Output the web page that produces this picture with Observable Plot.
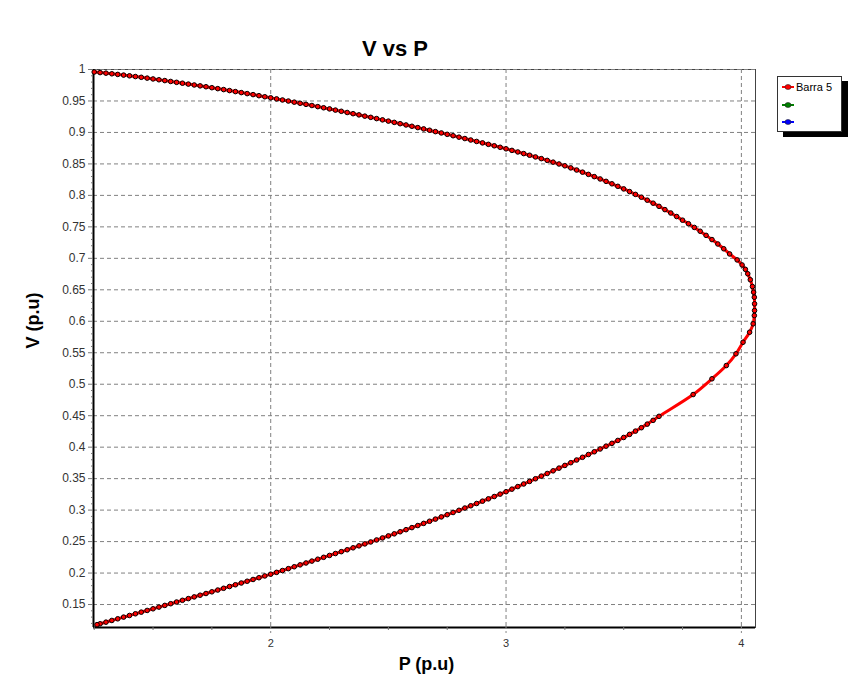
<!DOCTYPE html>
<html>
<head>
<meta charset="utf-8">
<script src="https://cdn.jsdelivr.net/npm/d3@7"></script>
<script src="https://cdn.jsdelivr.net/npm/@observablehq/plot@0.6"></script>
<style>
  html, body { margin: 0; padding: 0; background: #fff; }
  #wrap { position: relative; width: 859px; height: 694px; font-family: "Liberation Sans", Arial, sans-serif; }
  #title { position: absolute; left: 295px; width: 200px; top: 36px; text-align: center; font-weight: bold; font-size: 22px; line-height: 26px; color: #000; }
  #legend { position: absolute; left: 777px; top: 76px; width: 63px; height: 54px; background: #fff; border: 1px solid #333; box-shadow: 6px 5px 0 #000; font-size: 11px; }
  .item { position: absolute; left: 4px; height: 12px; display: flex; align-items: center; }
  .item svg { margin-right: 2px; }
</style>
</head>
<body>
<div id="wrap">
  <div id="chart"></div>
  <div id="title">V vs P</div>
  <div id="legend"></div>
</div>
<script>
// PV (nose) curve of bus 5: load P (p.u.) against voltage V (p.u.).
// Upper branch, stepping the load up towards the nose.
const pUpper = [
  1.25, 1.275, 1.3, 1.325, 1.35, 1.375, 1.4, 1.425, 1.45, 1.475,
  1.5, 1.525, 1.55, 1.575, 1.6, 1.625, 1.65, 1.675, 1.7, 1.725,
  1.75, 1.775, 1.8, 1.825, 1.85, 1.875, 1.9, 1.925, 1.95, 1.975,
  2.0, 2.025, 2.05, 2.075, 2.1, 2.125, 2.15, 2.175, 2.2, 2.225,
  2.25, 2.275, 2.3, 2.325, 2.35, 2.375, 2.4, 2.425, 2.45, 2.475,
  2.5, 2.525, 2.55, 2.575, 2.6, 2.625, 2.65, 2.675, 2.7, 2.725,
  2.75, 2.775, 2.8, 2.825, 2.85, 2.875, 2.9, 2.925, 2.95, 2.975,
  3.0, 3.025, 3.05, 3.075, 3.1, 3.125, 3.15, 3.175, 3.2, 3.225,
  3.25, 3.275, 3.3, 3.325, 3.35, 3.375, 3.4, 3.425, 3.45, 3.475,
  3.5, 3.525, 3.55, 3.575, 3.6, 3.625, 3.65, 3.675, 3.7, 3.725,
  3.75, 3.775, 3.8, 3.825, 3.85, 3.875, 3.9, 3.925, 3.95
];
const vUpper = [
  0.9960, 0.9951, 0.9942, 0.9932, 0.9922, 0.9911, 0.9900, 0.9888, 0.9876, 0.9863,
  0.9850, 0.9837, 0.9824, 0.9810, 0.9796, 0.9782, 0.9768, 0.9754, 0.9740, 0.9726,
  0.9711, 0.9696, 0.9681, 0.9665, 0.9649, 0.9633, 0.9617, 0.9601, 0.9584, 0.9567,
  0.9550, 0.9533, 0.9516, 0.9499, 0.9481, 0.9463, 0.9446, 0.9428, 0.9410, 0.9392,
  0.9374, 0.9355, 0.9336, 0.9317, 0.9298, 0.9279, 0.9259, 0.9240, 0.9220, 0.9200,
  0.9180, 0.9160, 0.9139, 0.9119, 0.9098, 0.9077, 0.9056, 0.9035, 0.9013, 0.8992,
  0.8970, 0.8948, 0.8925, 0.8903, 0.8880, 0.8857, 0.8834, 0.8811, 0.8788, 0.8764,
  0.8740, 0.8715, 0.8690, 0.8664, 0.8638, 0.8611, 0.8584, 0.8556, 0.8528, 0.8499,
  0.8470, 0.8437, 0.8403, 0.8369, 0.8334, 0.8298, 0.8261, 0.8223, 0.8184, 0.8144,
  0.8103, 0.8060, 0.8016, 0.7971, 0.7924, 0.7876, 0.7826, 0.7774, 0.7720, 0.7664,
  0.7606, 0.7550, 0.7491, 0.7430, 0.7365, 0.7298, 0.7228, 0.7152, 0.7070
];
// Round the nose: small voltage steps, then the coarse steps of the lower branch.
const pNose = [3.982, 4.003, 4.017, 4.027, 4.038, 4.047, 4.052, 4.055, 4.056, 4.056, 4.055, 4.050,
  4.035, 4.007, 3.977, 3.936, 3.875, 3.795];
const vNose = [0.6975, 0.6895, 0.6825, 0.6755, 0.6660, 0.6552, 0.6462, 0.6382, 0.6277, 0.6171, 0.6091, 0.5960,
  0.5826, 0.5667, 0.5483, 0.5297, 0.5086, 0.4836];
// Lower branch, load decreasing again.
const pLower = [
  3.65, 3.625, 3.6, 3.575, 3.55, 3.525,
  3.5, 3.475, 3.45, 3.425, 3.4, 3.375, 3.35, 3.325, 3.3, 3.275,
  3.25, 3.225, 3.2, 3.175, 3.15, 3.125, 3.1, 3.075, 3.05, 3.025,
  3.0, 2.975, 2.95, 2.925, 2.9, 2.875, 2.85, 2.825, 2.8, 2.775,
  2.75, 2.725, 2.7, 2.675, 2.65, 2.625, 2.6, 2.575, 2.55, 2.525,
  2.5, 2.475, 2.45, 2.425, 2.4, 2.375, 2.35, 2.325, 2.3, 2.275,
  2.25, 2.225, 2.2, 2.175, 2.15, 2.125, 2.1, 2.075, 2.05, 2.025,
  2.0, 1.975, 1.95, 1.925, 1.9, 1.875, 1.85, 1.825, 1.8, 1.775,
  1.75, 1.725, 1.7, 1.675, 1.65, 1.625, 1.6, 1.575, 1.55, 1.525,
  1.5, 1.475, 1.45, 1.425, 1.4, 1.375, 1.35, 1.325, 1.3, 1.275, 1.262
];
const vLower = [
  0.4490, 0.4426, 0.4366, 0.4309, 0.4255, 0.4203,
  0.4154, 0.4107, 0.4061, 0.4016, 0.3971, 0.3927, 0.3883, 0.3839, 0.3796, 0.3753,
  0.3710, 0.3667, 0.3624, 0.3582, 0.3540, 0.3498, 0.3456, 0.3415, 0.3374, 0.3333,
  0.3292, 0.3254, 0.3216, 0.3179, 0.3142, 0.3105, 0.3069, 0.3033, 0.2997, 0.2962,
  0.2927, 0.2892, 0.2857, 0.2823, 0.2789, 0.2755, 0.2722, 0.2689, 0.2656, 0.2623,
  0.2590, 0.2558, 0.2526, 0.2494, 0.2463, 0.2432, 0.2401, 0.2370, 0.2340, 0.2310,
  0.2280, 0.2250, 0.2220, 0.2190, 0.2160, 0.2130, 0.2100, 0.2070, 0.2040, 0.2011,
  0.1982, 0.1954, 0.1926, 0.1898, 0.1870, 0.1842, 0.1814, 0.1786, 0.1758, 0.1730,
  0.1702, 0.1675, 0.1648, 0.1621, 0.1594, 0.1567, 0.1540, 0.1513, 0.1486, 0.1459,
  0.1432, 0.1406, 0.1379, 0.1353, 0.1326, 0.1300, 0.1273, 0.1247, 0.1220, 0.1194, 0.1180
];

const xTicks = [2, 3, 4];
const xMinor = [1.25, 1.5, 1.75, 2.25, 2.5, 2.75, 3.25, 3.5, 3.75];
const yTicks = [0.15, 0.2, 0.25, 0.3, 0.35, 0.4, 0.45, 0.5, 0.55, 0.6, 0.65, 0.7, 0.75, 0.8, 0.85, 0.9, 0.95, 1];
const yMinor = d3.range(12, 100).map(d => d / 100).filter(d => Math.round(d * 100) % 5 !== 0);

const xDomain = [1.247, 4.06];
const yDomain = [0.1135, 1.0];

const series = [
  { name: "Barra 5", color: "#ff0000" },
  { name: "", color: "#008000" },
  { name: "", color: "#0000ff" }
];

const curve = [
  ...pUpper.map((p, i) => ({ P: p, V: vUpper[i] })),
  ...pNose.map((p, i) => ({ P: p, V: vNose[i] })),
  ...pLower.map((p, i) => ({ P: p, V: vLower[i] }))
];

const chart = Plot.plot({
  width: 859,
  height: 694,
  marginLeft: 93,
  marginRight: 104,
  marginTop: 69,
  marginBottom: 67,
  style: { fontFamily: "Liberation Sans, Arial, sans-serif", fontSize: "12px", color: "#333", background: "#fff" },
  x: { domain: xDomain },
  y: { domain: yDomain },
  marks: [
    Plot.frame({ stroke: "#444", strokeWidth: 1 }),
    Plot.gridX(xTicks, { stroke: "#808080", strokeOpacity: 1, strokeDasharray: "4,3" }),
    Plot.gridY(yTicks, { stroke: "#808080", strokeOpacity: 1, strokeDasharray: "4,3" }),
    Plot.ruleX([xDomain[0]], { stroke: "#000", strokeWidth: 2 }),
    Plot.ruleY([yDomain[0]], { stroke: "#000", strokeWidth: 2 }),
    Plot.axisY(yTicks, { tickSize: 5, tickPadding: 3, stroke: "#777", tickFormat: d => String(+d.toFixed(2)), fontSize: 12, label: null }),
    Plot.axisY(yMinor, { tickSize: 2, stroke: "#777", text: null, label: null }),
    Plot.axisX(xTicks, { tickSize: 6, tickPadding: 6, stroke: "#888", strokeDasharray: "2,2", tickFormat: d => String(d), fontSize: 11, label: null }),
    Plot.axisX(xMinor, { tickSize: 3, stroke: "#777", text: null, label: null }),
    Plot.text(["P (p.u)"], { frameAnchor: "bottom", dx: 2, dy: 42, fontWeight: "bold", fontSize: 18, fill: "#000" }),
    Plot.text(["V (p.u)"], { frameAnchor: "left", dx: -60, rotate: -90, fontWeight: "bold", fontSize: 18, fill: "#000" }),
    Plot.line(curve, { x: "P", y: "V", stroke: series[0].color, strokeWidth: 3, curve: "catmull-rom" }),
    Plot.dot(curve, { x: "P", y: "V", r: 2.3, fill: series[0].color, stroke: "#000", strokeWidth: 1 })
  ]
});
document.getElementById("chart").appendChild(chart);

// legend entries
const legend = d3.select("#legend");
series.forEach((s, i) => {
  const item = legend.append("div").attr("class", "item").style("top", (4 + i * 17.5) + "px");
  const sw = item.append("svg").attr("width", 12).attr("height", 8);
  sw.append("line").attr("x1", 0).attr("x2", 12).attr("y1", 4).attr("y2", 4).attr("stroke", s.color).attr("stroke-width", 2);
  sw.append("ellipse").attr("cx", 6).attr("cy", 4).attr("rx", 3).attr("ry", 2.5).attr("fill", s.color).attr("stroke", "#222").attr("stroke-width", 0.6);
  item.append("span").text(s.name);
});
</script>
</body>
</html>
